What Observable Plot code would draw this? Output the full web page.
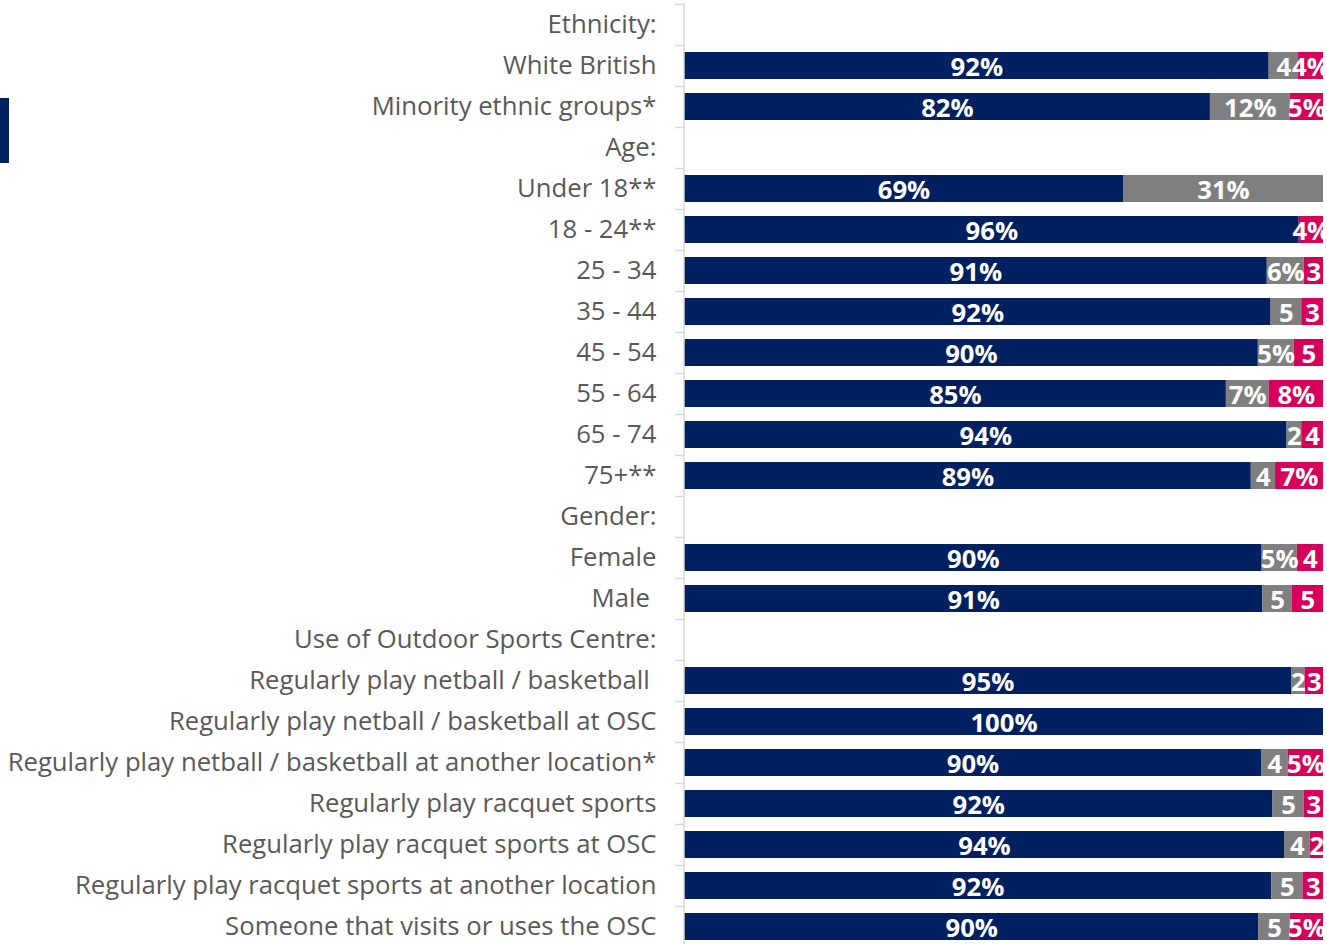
<!DOCTYPE html>
<html>
<head>
<meta charset="utf-8">
<script src="https://cdn.jsdelivr.net/npm/d3@7"></script>
<script src="https://cdn.jsdelivr.net/npm/@observablehq/plot@0.6"></script>
<style>
  html, body { margin: 0; padding: 0; background: #fff; overflow: hidden; }
  #wrap { position: relative; width: 1327px; height: 944px; overflow: hidden; }
  #legendFrag { position: absolute; left: 0; top: 98px; width: 9px; height: 65px; background: #002060; }
  svg text { white-space: pre; }
</style>
</head>
<body>
<div id="wrap"><div id="legendFrag"></div><div id="chart"></div></div>
<script>
const categories = ["Ethnicity:", "White British", "Minority ethnic groups*", "Age:", "Under 18**", "18 - 24**", "25 - 34", "35 - 44", "45 - 54", "55 - 64", "65 - 74", "75+**", "Gender:", "Female", "Male ", "Use of Outdoor Sports Centre:", "Regularly play netball / basketball ", "Regularly play netball / basketball at OSC", "Regularly play netball / basketball at another location*", "Regularly play racquet sports", "Regularly play racquet sports at OSC", "Regularly play racquet sports at another location", "Someone that visits or uses the OSC"];

const seriesNames = ["Positive", "Neutral", "Negative"];
const seriesColors = ["#002060", "#7f7f7f", "#d6005b"];

const positiveValues = [null, 91.5, 82.3, null, 68.7, 96.2, 91.2, 91.8, 89.8, 84.8, 94.3, 88.7, null, 90.4, 90.5, null, 95.0, 100, 90.3, 92.1, 93.9, 91.9, 89.9];
const neutralValues  = [null, 4.6, 12.5, null, 31.3, 0, 5.8, 4.8, 5.6, 6.7, 2.3, 3.8, null, 5.5, 4.6, null, 2.1, 0, 4.2, 4.9, 4.0, 4.9, 4.9];
const negativeValues = [null, 3.9, 5.2, null, 0, 3.8, 3.0, 3.4, 4.6, 8.5, 3.4, 7.5, null, 4.1, 4.9, null, 2.9, 0, 5.5, 3.0, 2.1, 3.2, 5.2];

const positiveLabels = ["", "92%", "82%", "", "69%", "96%", "91%", "92%", "90%", "85%", "94%", "89%", "", "90%", "91%", "", "95%", "100%", "90%", "92%", "94%", "92%", "90%"];
const neutralLabels  = ["", "4", "12%", "", "31%", "", "6%", "5", "5%", "7%", "2", "4", "", "5%", "5", "", "2", "", "4", "5", "4", "5", "5"];
const negativeLabels = ["", "4%", "5%", "", "", "4%", "3", "3", "5", "8%", "4", "7%", "", "4", "5", "", "3", "", "5%", "3", "2", "3", "5%"];

const valueSets = [positiveValues, neutralValues, negativeValues];
const labelSets = [positiveLabels, neutralLabels, negativeLabels];

const data = [];
categories.forEach((cat, i) => {
  seriesNames.forEach((s, j) => {
    const v = valueSets[j][i];
    if (v != null && v > 0) data.push({cat, series: s, value: v, label: labelSets[j][i]});
  });
});

const chart = Plot.plot({
  width: 1327,
  height: 948,
  marginLeft: 684,
  marginRight: 4,
  marginTop: 3,
  marginBottom: 0,
  style: {fontFamily: "'Open Sans', sans-serif", fontSize: "25.7px", color: "#595959", background: "#fff", overflow: "visible"},
  x: {domain: [0, 100], axis: null},
  y: {domain: categories, paddingInner: 0.34, paddingOuter: 0.17, axis: null},
  color: {domain: seriesNames, range: seriesColors},
  marks: [
    Plot.barX(data, {x: "value", y: "cat", fill: "series", order: seriesNames}),
    Plot.ruleX([0], {stroke: "#d9d9d9", strokeWidth: 1.5, dx: -0.5}),
    Plot.axisY({tickSize: 9, fill: "none", stroke: "#d9d9d9", strokeWidth: 1.5, dy: -20.5, label: null}),
    Plot.axisY({tickSize: 0, tickPadding: 28, fill: "#595959", label: null}),
    Plot.text(data.filter(d => d.label !== ""), Plot.stackX({
      x: "value", y: "cat", z: "series", order: seriesNames, text: "label",
      fill: "white", fontWeight: "bold", fontSize: 25.7, dy: 1.5
    }))
  ]
});
document.getElementById("chart").appendChild(chart);
</script>
</body>
</html>
